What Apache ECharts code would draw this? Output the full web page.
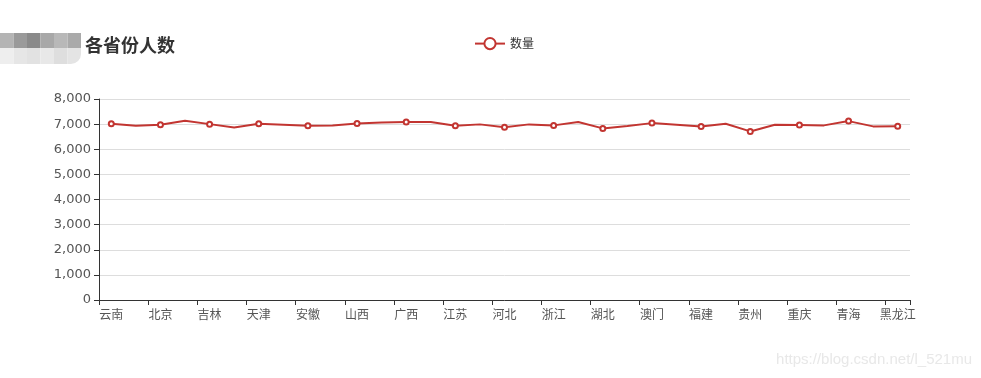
<!DOCTYPE html>
<html>
<head>
<meta charset="utf-8">
<script src="https://cdn.jsdelivr.net/npm/echarts@6/dist/echarts.min.js"></script>
<style>html,body{margin:0;padding:0;background:#fff;}#c{width:981px;height:378px;}</style>
</head>
<body>
<div id="c"></div>
<script>
const categories = ['云南','内蒙古','北京','台湾','吉林','四川','天津','宁夏','安徽','山东','山西','广东','广西','新疆','江苏','江西','河北','河南','浙江','海南','湖北','湖南','澳门','甘肃','福建','西藏','贵州','辽宁','重庆','陕西','青海','香港','黑龙江'];
const counts = [7015,6940,6975,7135,7000,6870,7015,6975,6935,6950,7025,7060,7080,7085,6935,6990,6880,6990,6950,7085,6830,6925,7040,6975,6910,7015,6710,6975,6965,6950,7120,6910,6920];
const yTicks = [0,1000,2000,3000,4000,5000,6000,7000,8000];
const seriesName = '数量';
const titleText = '各省份人数';
const watermark = 'https://blog.csdn.net/l_521mu';

const chart = echarts.init(document.getElementById('c'));
const fontCJK = '"Noto Sans CJK SC","Microsoft YaHei",sans-serif';
const mosaicTop = ['#b4b4b4','#9a9a9a','#8a8a8a','#a8a8a8','#b8b8b8','#aaaaaa'];
const mosaicBot = ['#eeeeee','#e6e6e6','#e2e2e2','#e8e8e8','#dedede','#e4e4e4'];
const graphics = [];
mosaicTop.forEach((c,i)=>graphics.push({type:'rect',left:i*13.5,top:33,shape:{width:13.5,height:15},style:{fill:c}}));
mosaicBot.forEach((c,i)=>graphics.push({type:'rect',left:i*13.5,top:48,shape:{width:13.5,height:16,r:i===5?[0,0,10,0]:0},style:{fill:c}}));
graphics.push({type:'text',right:9,top:352,style:{text:watermark,fill:'#e8e8e8',font:'15px "Liberation Sans",Arial,sans-serif'}});

const seriesData = counts.map((v,i)=> i%2===0 ? v : {value:v,symbol:'none'});

chart.setOption({
  animation:false,
  backgroundColor:'#fff',
  graphic:graphics,
  title:{text:titleText,left:80,top:31,textStyle:{fontFamily:fontCJK,fontSize:18,fontWeight:'bold',color:'#333'}},
  legend:{data:[seriesName],left:469,top:32,itemWidth:30,itemHeight:14,itemGap:10,
    textStyle:{fontFamily:fontCJK,fontSize:12,color:'#333'}},
  grid:{left:99,right:71,top:99,bottom:78,containLabel:false},
  xAxis:{type:'category',data:categories,boundaryGap:true,
    axisLine:{show:true,lineStyle:{color:'#333'}},
    axisTick:{show:true,interval:1,lineStyle:{color:'#333'}},
    axisLabel:{interval:1,color:'#555',fontFamily:fontCJK,fontSize:12,margin:8},
    splitLine:{show:false}},
  yAxis:{type:'value',min:yTicks[0],max:yTicks[yTicks.length-1],interval:1000,
    axisLine:{show:true,lineStyle:{color:'#333'}},
    axisTick:{show:true,lineStyle:{color:'#333'}},
    axisLabel:{color:'#555',fontFamily:'"DejaVu Sans",sans-serif',fontSize:13,margin:8,
      formatter:v=>v.toLocaleString('en-US')},
    splitLine:{show:true,lineStyle:{color:'#ddd'}}},
  series:[{name:seriesName,type:'line',data:seriesData,symbol:'emptyCircle',symbolSize:5,
    showAllSymbol:true,
    itemStyle:{color:'#c23531',borderWidth:1.5},
    lineStyle:{color:'#c23531',width:2}}]
});
</script>
</body>
</html>
